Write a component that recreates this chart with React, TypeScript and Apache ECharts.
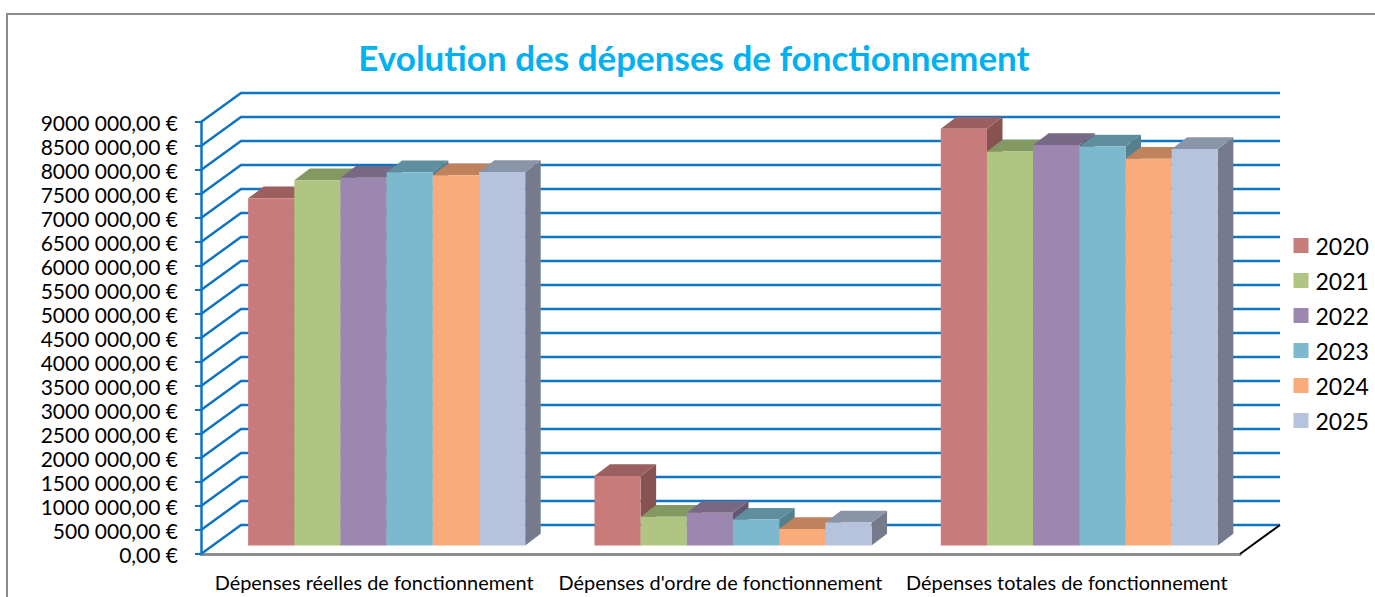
import React, { useEffect, useRef } from "react";
import * as echarts from "echarts";

const chartTitle = "Evolution des dépenses de fonctionnement";
const categories = [
  "Dépenses réelles de fonctionnement",
  "Dépenses d'ordre de fonctionnement",
  "Dépenses totales de fonctionnement",
];
const years = ["2020", "2021", "2022", "2023", "2024", "2025"];
const v2020 = [7233000, 1448000, 8681000];
const v2021 = [7608000, 600000, 8208000];
const v2022 = [7663000, 683000, 8346000];
const v2023 = [7775000, 540000, 8315000];
const v2024 = [7712000, 344000, 8056000];
const v2025 = [7781000, 480000, 8261000];
const seriesValues = [v2020, v2021, v2022, v2023, v2024, v2025];
const yTicks = [
  0, 500000, 1000000, 1500000, 2000000, 2500000, 3000000, 3500000, 4000000, 4500000,
  5000000, 5500000, 6000000, 6500000, 7000000, 7500000, 8000000, 8500000, 9000000,
];
const frontColors = ["#C77B7A", "#AFC581", "#9B87B0", "#7CB9CF", "#F9AB79", "#B6C3DC"];
const topColors = ["#9A5F5E", "#849962", "#776886", "#5F8E9E", "#BF825D", "#8995A9"];
const sideColors = ["#865351", "#6F8052", "#645672", "#53808C", "#A26E4E", "#757B8C"];

const FONT = "Lato";
const GRID_BLUE = "#0F74C4";
const WALL = { x: 40, y: -29 };
const PLANE = { x: 12.5, y: -8.5 };
const DEPTH = { x: 15.5, y: -11.7 };

function fmt(v: number) {
  if (v === 0) return "0,00 €";
  const thousands = Math.round(v / 1000);
  const millions = Math.floor(thousands / 1000);
  const rem = String(thousands % 1000).padStart(3, "0");
  const head = millions === 0 ? rem : `${millions}${rem}`;
  return `${head} 000,00 €`;
}

function wallItem(params: any, api: any) {
  const cs = params.coordSys;
  const v = api.value(0);
  const y = api.coord([0, v])[1];
  const left = cs.x;
  const right = cs.x + cs.width;
  const lineStyle = { stroke: GRID_BLUE, lineWidth: 2.5, fill: "none" };
  const children: any[] = [
    {
      type: "polyline",
      shape: { points: [[left, y], [left + WALL.x, y + WALL.y], [right + WALL.x, y + WALL.y]] },
      style: lineStyle,
    },
  ];
  if (v === 0) {
    children.push({
      type: "line",
      shape: { x1: right, y1: y, x2: right + WALL.x, y2: y + WALL.y },
      style: { stroke: "#000000", lineWidth: 2 },
    });
  }
  return { type: "group", children };
}

function barRenderer(index: number) {
  return (_params: any, api: any) => {
    const cat = api.value(0);
    const val = api.value(1);
    const center = api.coord([cat, val]);
    const base = api.coord([cat, 0]);
    const band = api.size([1, 0])[0];
    const bw = band / 7.5;
    const x0 = center[0] - 3 * bw + index * bw + PLANE.x;
    const x1 = x0 + bw;
    const yt = center[1] + PLANE.y;
    const yb = base[1] + PLANE.y;
    return {
      type: "group",
      children: [
        {
          type: "polygon",
          shape: { points: [[x1, yt], [x1 + DEPTH.x, yt + DEPTH.y], [x1 + DEPTH.x, yb + DEPTH.y], [x1, yb]] },
          style: { fill: sideColors[index] },
        },
        {
          type: "polygon",
          shape: { points: [[x0, yt], [x0 + DEPTH.x, yt + DEPTH.y], [x1 + DEPTH.x, yt + DEPTH.y], [x1, yt]] },
          style: { fill: topColors[index] },
        },
        {
          type: "rect",
          shape: { x: x0, y: yt, width: bw, height: yb - yt },
          style: { fill: frontColors[index] },
        },
      ],
    };
  };
}

export default function App() {
  const ref = useRef<HTMLDivElement>(null);
  useEffect(() => {
    const chart = echarts.init(ref.current!, undefined, { renderer: "svg" });
    chart.setOption({
      animation: false,
      backgroundColor: "#FFFFFF",
      title: {
        text: chartTitle,
        left: 689,
        top: 34,
        textAlign: "center",
        textStyle: { fontFamily: FONT, fontSize: 35, fontWeight: "bold", color: "#00B0F0" },
      },
      legend: {
        data: years,
        orient: "vertical",
        left: 1288.5,
        top: 229,
        itemWidth: 15,
        itemHeight: 15,
        itemGap: 12,
        icon: "rect",
        textStyle: { fontFamily: FONT, fontSize: 23, color: "#000000", padding: [0, 0, 0, 2] },
      },
      grid: { left: 201, right: 135, top: 122, bottom: 43 },
      xAxis: {
        type: "category",
        data: categories,
        axisLine: { lineStyle: { color: "#8C8C8C", width: 3 } },
        axisTick: { alignWithLabel: false, length: 7, lineStyle: { color: "#8C8C8C", width: 1 } },
        axisLabel: { fontFamily: FONT, fontSize: 19.9, color: "#000000", margin: 18, interval: 0 },
      },
      yAxis: {
        type: "value",
        min: 0,
        max: 9000000,
        interval: 500000,
        axisLine: { show: true, lineStyle: { color: GRID_BLUE, width: 2.5 } },
        axisTick: { show: true, length: 6, lineStyle: { color: GRID_BLUE, width: 2 } },
        splitLine: { show: false },
        axisLabel: { fontFamily: FONT, fontSize: 21, color: "#000000", margin: 23, padding: [3, 0, 0, 0], formatter: fmt },
      },
      series: [
        {
          type: "custom",
          name: "walls",
          z: 1,
          silent: true,
          data: yTicks.map((t) => [t]),
          encode: { y: 0 },
          renderItem: wallItem,
        },
        ...years.map((y, i) => ({
          type: "custom",
          name: y,
          z: 2,
          itemStyle: { color: frontColors[i] },
          data: seriesValues[i].map((v, c) => [c, v]),
          encode: { x: 0, y: 1 },
          renderItem: barRenderer(i),
        })),
      ],
      graphic: [
        { type: "line", shape: { x1: 6, y1: 14, x2: 1375, y2: 14 }, style: { stroke: "#8C8C8C", lineWidth: 2 } },
        { type: "line", shape: { x1: 7, y1: 14, x2: 7, y2: 597 }, style: { stroke: "#8C8C8C", lineWidth: 2 } },
      ],
    });
    return () => chart.dispose();
  }, []);
  return (
    <div
      ref={ref}
      style={{ position: "absolute", left: 0, top: 0, width: 1375, height: 597 }}
    />
  );
}
